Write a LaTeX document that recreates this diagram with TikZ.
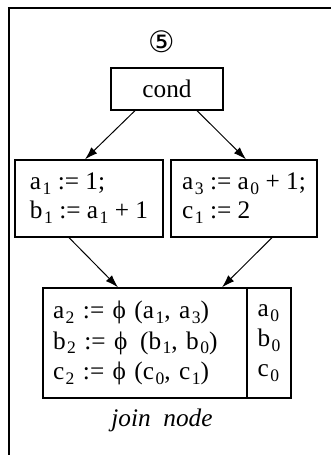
\documentclass[tikz,border=0pt]{standalone}
\usepackage{fontspec}
\setmainfont{Liberation Serif}
\newfontfamily\symfont{DejaVu Sans}
\usetikzlibrary{arrows.meta,calc}
\newcommand{\ix}[1]{\kern0.06em\raisebox{-0.42ex}{\fontsize{12.5}{12.5}\selectfont #1}}
\newcommand{\fy}{ϕ}
\tikzset{
  blk/.style={draw, line width=0.9pt, align=left, anchor=center, inner sep=0pt},
  flow/.style={-{Latex[length=3.2mm,width=2.1mm]}, line width=0.7pt}
}
\begin{document}
\begin{tikzpicture}[font=\fontsize{18}{20.5}\selectfont]
\useasboundingbox (0,0) rectangle (8.275,11.375);
\draw[line width=1.1pt] (0.2,11.175) -- (8.275,11.175);
\draw[line width=1.3pt] (0.225,11.175) -- (0.225,0);
\node (num) at (4.05,10.325) {\symfont\fontsize{21}{24}\selectfont ⑤};
\node[blk, minimum width=2.8cm, minimum height=1.05cm, align=center] (cond) at (4.175,9.15) {cond};
\node[blk, minimum width=3.7cm, minimum height=1.925cm] (left) at (2.225,6.4125) {a\ix{1} := 1;\\ b\ix{1} := a\ix{1} + 1};
\node[blk, minimum width=3.65cm, minimum height=1.925cm] (right) at (6.1,6.4125) {a\ix{3} := a\ix{0} + 1;\\ c\ix{1} := 2};
\node[blk, minimum width=5.1cm, minimum height=2.75cm, text width=4.6cm] (joinL) at (3.625,2.8) {a\ix{2} := \fy{} (a\ix{1}, a\ix{3})\\[1pt] b\ix{2} := \fy{} \,(b\ix{1}, b\ix{0})\\[1pt] c\ix{2} := \fy{} (c\ix{0}, c\ix{1})};
\node[blk, minimum width=1.1cm, minimum height=2.75cm, align=left] (joinR) at (6.725,2.8) {a\ix{0}\\[1pt] b\ix{0}\\[1pt] c\ix{0}};
\node (lbl) at (4.05,0.875) {\textit{join\ \ node}};
\draw[flow] ($(cond.south)+(-0.8,0)$) -- ($(left.north)+(-0.1,0)$);
\draw[flow] ($(cond.south)+(0.75,0)$) -- ($(right.north)+(0.05,0)$);
\draw[flow] ($(left.south)+(-0.5,0)$) -- ($(joinL.north)+(-0.675,0)$);
\draw[flow] ($(right.south)+(0.7,0)$) -- ($(joinL.north)+(1.925,0)$);
\end{tikzpicture}
\end{document}
